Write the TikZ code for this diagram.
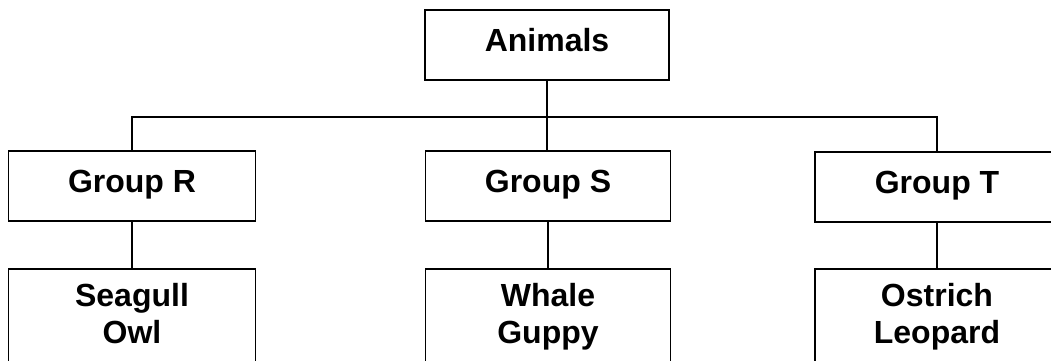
\documentclass[tikz,border=0pt]{standalone}
\usepackage{fontspec}
\setmainfont{Liberation Sans}
\begin{document}
\begin{tikzpicture}[x=1pt,y=-1pt,
  box/.style={draw=black, line width=1.6pt, rectangle, inner sep=0pt,
    font=\fontsize{32}{37}\selectfont\bfseries,
    text height=23pt, text depth=11pt, minimum height=70pt},
  leaf/.style={draw=black, line width=1.6pt, rectangle, anchor=north,
    inner xsep=0pt, inner ysep=15pt,
    font=\fontsize{32}{37}\selectfont\bfseries,
    text height=23pt, text depth=150pt},
  link/.style={line width=1.6pt, draw=black}]
\useasboundingbox (0,0) rectangle (1051,360);
\clip (0,0) rectangle (1051,360);
\node[box, minimum width=244pt] (A) at (547,45) {Animals};
\node[box, minimum width=247pt] (R) at (132,186) {Group R};
\node[box, minimum width=245pt] (S) at (548,186) {Group S};
\node[box, minimum width=244pt] (T) at (937,187) {Group T};
\node[leaf, minimum width=247pt] (RL) at (132,268) {\begin{tabular}[t]{@{}c@{}}Seagull\\Owl\end{tabular}};
\node[leaf, minimum width=245pt] (SL) at (548,268) {\begin{tabular}[t]{@{}c@{}}Whale\\Guppy\end{tabular}};
\node[leaf, minimum width=244pt] (TL) at (937,268) {\begin{tabular}[t]{@{}c@{}}Ostrich\\Leopard\end{tabular}};
\coordinate (bus) at (547,117);
\draw[link] (A.south) -- (A.south |- S.north);
\draw[link] (R.north) |- (bus) -| (T.north);
\draw[link] (R.south) -- (RL.north);
\draw[link] (S.south) -- (SL.north);
\draw[link] (T.south) -- (TL.north);
\end{tikzpicture}
\end{document}
